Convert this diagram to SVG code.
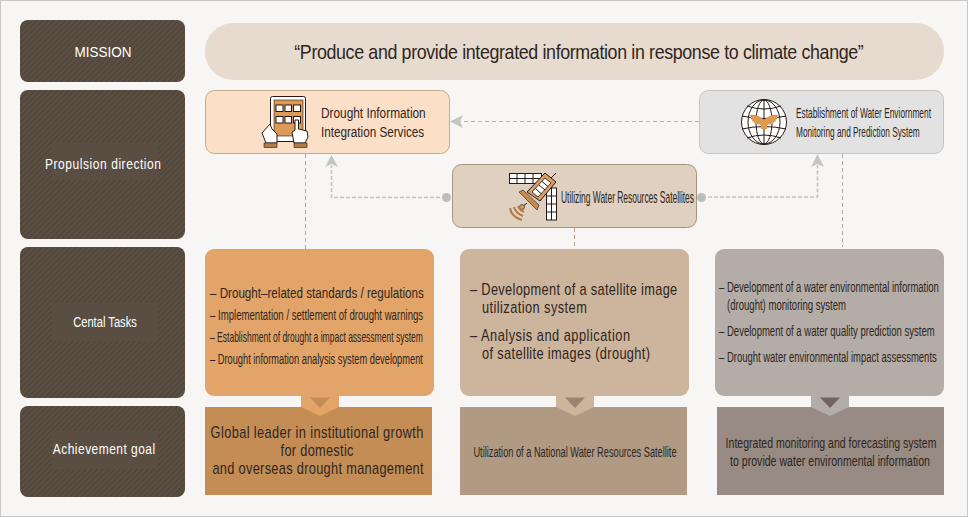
<svg xmlns="http://www.w3.org/2000/svg" width="968" height="517" viewBox="0 0 968 517">
<style>
text{font-family:"Liberation Sans",Arial,sans-serif;fill:#2e2620;font-size:15px}
.lab{fill:#fff;text-anchor:middle}
.c{text-anchor:middle}
.b{font-size:16px}
.side{fill:url(#st)}
.band{fill:#5a4d42}
.dash{fill:none;stroke-width:1;stroke-dasharray:4 3}
.heavy{stroke-width:1.600;stroke-dasharray:4 2}
.arrow{fill:#c4c4c2}
.dot{fill:#bdbdbb}
.ic{stroke:#231815;stroke-width:1;fill:#fff}
.ln{stroke:#231815;stroke-width:1;fill:none}
.arc{fill:none;stroke:#b07c4a;stroke-width:2}
.cuff{fill:#b07c4a;stroke:#231815;stroke-width:.6}
</style>
<defs>
<pattern id="st" width="4" height="4" patternUnits="userSpaceOnUse" patternTransform="rotate(45)">
<rect width="4" height="4" fill="#5b4f43"/><rect width="1.500" height="4" fill="#50453a"/>
</pattern>
</defs>
<rect x="0.500" y="0.500" width="967" height="516" fill="#f8f6f4" stroke="#c8c8c8"/>

<g id="connectors">
<path class="dash" stroke="#c9a478" d="M305.500 154V249"/>
<path class="dash" stroke="#b39f8a" d="M574.500 228V249"/>
<path class="dash" stroke="#a9a9a9" d="M842.500 154V247"/>
<path class="dash" stroke="#b4b4b2" d="M699 121.500H460"/>
<path class="arrow" d="M450 121.500L463 115L460 121.500L463 128Z"/>
<path class="dash heavy" stroke="#c4c4c2" d="M446 197.500H331.500V165"/>
<path class="arrow" d="M331.500 155L338 167L331.500 164L325 167Z"/>
<circle class="dot" cx="446.500" cy="197.500" r="4.500"/>
<path class="dash heavy" stroke="#c4c4c2" d="M702 197H817.500V165"/>
<path class="arrow" d="M817.500 154L824 167L817.500 164L811 167Z"/>
<circle class="dot" cx="701.500" cy="197.500" r="4.500"/>
</g>

<g id="label-mission"><rect class="side" x="20" y="20" width="165" height="62" rx="8"/><text class="lab" transform="translate(103 57) scale(.85 1)" textLength="67" lengthAdjust="spacingAndGlyphs">MISSION</text></g>
<g id="label-propulsion"><rect class="side" x="20" y="90" width="165" height="149" rx="8"/><rect class="band" x="52" y="143" width="106" height="37"/><text class="lab" transform="translate(103 169) scale(.8 1)" textLength="145" lengthAdjust="spacing">Propulsion direction</text></g>
<g id="label-tasks"><rect class="side" x="20" y="247" width="165" height="151" rx="8"/><rect class="band" x="52" y="303" width="106" height="38"/><text class="lab" transform="translate(105 327) scale(.75 1)" textLength="85" lengthAdjust="spacingAndGlyphs">Cental Tasks</text></g>
<g id="label-goal"><rect class="side" x="20" y="406" width="165" height="91" rx="8"/><rect class="band" x="52" y="431" width="106" height="38"/><text class="lab" transform="translate(104 454) scale(.8 1)" textLength="128" lengthAdjust="spacing">Achievement goal</text></g>

<g id="mission"><rect x="205" y="23" width="739" height="57" rx="28" fill="#e7dbd0"/><text class="c" transform="translate(579 59) scale(.85 1)" style="font-size:21px" textLength="670" lengthAdjust="spacing">“Produce and provide integrated information in response to climate change”</text></g>

<g id="drought-services"><rect x="205.500" y="90.500" width="244" height="63" rx="9" fill="#fcdfc7" stroke="#c9a98c"/>
<rect class="ic" x="270.500" y="96.500" width="35" height="45" rx="2" stroke-width="1.500"/>
<rect x="274" y="100" width="29" height="36" fill="#dc9a58" stroke="#231815" stroke-width=".6"/>
<g fill="#fff" stroke="#231815"><rect x="276" y="105" width="7" height="6.500"/><rect x="285" y="105" width="6.500" height="6.500"/><rect x="293.500" y="105" width="7" height="6.500"/><rect x="276" y="116.500" width="7" height="6.500"/><rect x="285" y="116.500" width="6.500" height="6.500"/><rect x="293.500" y="116.500" width="7" height="6.500"/></g>
<path class="ic" d="M266 143L262 133L270 124L272 129L277 134V143Z"/>
<path class="ic" d="M294 143L292 132L295 130V120H298.500V129L307 131L308 137L305 143Z"/>
<rect class="cuff" x="264" y="143" width="13" height="4.500"/><rect class="cuff" x="294" y="143" width="13" height="4.500"/>
<text transform="translate(321 118) scale(.77 1)" textLength="136" lengthAdjust="spacingAndGlyphs">Drought Information</text><text transform="translate(321 137) scale(.77 1)" textLength="134" lengthAdjust="spacingAndGlyphs">Integration Services</text></g>

<g id="water-monitoring"><rect x="699.500" y="90.500" width="244" height="63" rx="9" fill="#e2e2e2" stroke="#c4c4c4"/>
<circle class="ic" cx="764" cy="122" r="22.500" stroke-width="1.500"/>
<g class="ln"><ellipse cx="764" cy="122" rx="8" ry="22"/><ellipse cx="764" cy="122" rx="16" ry="22"/><path d="M764 100V144M747 106Q764 112 781 106M742 116Q764 121 786 116M742 129Q764 124 786 129M747 138Q764 132 781 138"/></g>
<path d="M750 115Q758 114 764 120Q770 114 778 115Q777 124 767 125V129H761V125Q751 124 750 115Z" fill="#e09a50"/>
<text transform="translate(796 118) scale(.56 1)" textLength="241" lengthAdjust="spacingAndGlyphs">Establishment of Water Enviornment</text><text transform="translate(796 137) scale(.56 1)" textLength="221" lengthAdjust="spacingAndGlyphs">Monitoring and Prediction System</text></g>

<g id="satellite"><rect x="452.500" y="164.500" width="244" height="63" rx="9" fill="#e0d0c0" stroke="#a8957f"/>
<g class="ln"><rect x="509.500" y="173.500" width="32" height="10" fill="#fff"/><path d="M517 173.500V183.500M525 173.500V183.500M533 173.500V183.500M509.500 178.500H541.500"/><rect x="546.500" y="188" width="10" height="32" fill="#fff"/><path d="M546.500 196H556.500M546.500 204H556.500M546.500 212H556.500M551.500 188V220"/></g>
<path d="M527 192L545 173L556 182L540 201Z" fill="#d99e63" stroke="#231815"/>
<path d="M532 192L545 178L551 183L538 197Z" fill="#fff" stroke="#231815" stroke-width=".8"/>
<path class="ln" d="M535.500 188.500L541.500 194M539 185L545 190M542 181.500L548 186.500M551 178L556 173M527 203L522 207"/>
<path d="M519 192L523 190L539 205L537 210Z" fill="#c88a50" stroke="#231815" stroke-width=".6"/>
<circle cx="522" cy="207" r="2.500" fill="#d99e63" stroke="#231815" stroke-width=".6"/>
<path class="arc" d="M510 208C511 214 515 218 522 220"/><path class="arc" d="M514 207C515 211 518 214 523 216"/><path class="arc" d="M518 206C519 209 520 210 524 212"/>
<text class="b" transform="translate(561 203) scale(.5 1)" textLength="266" lengthAdjust="spacingAndGlyphs">Utilizing Water Resources Satellites</text></g>

<g id="task-drought"><rect x="205" y="249" width="229" height="147" rx="9" fill="#e2a468"/>
<text transform="translate(210 298) scale(.75 1)" textLength="285" lengthAdjust="spacingAndGlyphs">– Drought–related standards / regulations</text>
<text transform="translate(210 320) scale(.64 1)" textLength="333" lengthAdjust="spacingAndGlyphs">– Implementation / settlement of drought warnings</text>
<text transform="translate(210 342) scale(.58 1)" textLength="367" lengthAdjust="spacingAndGlyphs">– Establishment of drought a impact assessment system</text>
<text transform="translate(210 364) scale(.61 1)" textLength="349" lengthAdjust="spacingAndGlyphs">– Drought information analysis system development</text></g>

<g id="task-satellite"><rect x="460" y="249" width="229" height="147" rx="9" fill="#cdb49c"/>
<text class="b" transform="translate(470 295) scale(.8 1)" textLength="259" lengthAdjust="spacing">– Development of a satellite image</text>
<text class="b" transform="translate(482 313) scale(.8 1)" textLength="131" lengthAdjust="spacing">utilization system</text>
<text class="b" transform="translate(470 341) scale(.8 1)" textLength="200" lengthAdjust="spacing">– Analysis and application</text>
<text class="b" transform="translate(482 359) scale(.8 1)" textLength="210" lengthAdjust="spacing">of satellite images (drought)</text></g>

<g id="task-water"><rect x="715" y="249" width="229" height="147" rx="9" fill="#b4aca6"/>
<text transform="translate(719 292) scale(.63 1)" textLength="349" lengthAdjust="spacingAndGlyphs">– Development of a water environmental information</text>
<text transform="translate(727 310) scale(.63 1)" textLength="189" lengthAdjust="spacingAndGlyphs">(drought) monitoring system</text>
<text transform="translate(719 336) scale(.64 1)" textLength="337" lengthAdjust="spacingAndGlyphs">– Development of a water quality prediction system</text>
<text transform="translate(719 362) scale(.65 1)" textLength="335" lengthAdjust="spacingAndGlyphs">– Drought water environmental impact assessments</text></g>

<g id="goal-drought"><rect x="205" y="407" width="227" height="88" fill="#c48d55"/><path d="M301 396H339V407L320 416L301 407Z" fill="#e2a468"/><path d="M310 397.500H330L320 408Z" fill="#c48d55"/>
<text class="b c" transform="translate(317 438) scale(.8 1)" textLength="266" lengthAdjust="spacing">Global leader in institutional growth</text><text class="b c" transform="translate(317 456) scale(.8 1)" textLength="91" lengthAdjust="spacing">for domestic</text><text class="b c" transform="translate(318 474) scale(.8 1)" textLength="264" lengthAdjust="spacing">and overseas drought management</text></g>

<g id="goal-satellite"><rect x="460" y="407" width="227" height="88" fill="#b09a84"/><path d="M556 396H594V407L575 416L556 407Z" fill="#cdb49c"/><path d="M565 397.500H585L575 408Z" fill="#978572"/>
<text class="c" transform="translate(575 457) scale(.61 1)" textLength="333" lengthAdjust="spacingAndGlyphs">Utilization of a National Water Resources Satellite</text></g>

<g id="goal-water"><rect x="717" y="407" width="227" height="88" fill="#978b83"/><path d="M811 396H849V407L830 416L811 407Z" fill="#b4aca6"/><path d="M820 397.500H840L830 408Z" fill="#6f655d"/>
<text class="c" transform="translate(831 448) scale(.68 1)" textLength="310" lengthAdjust="spacingAndGlyphs">Integrated monitoring and forecasting system</text><text class="c" transform="translate(830 466) scale(.68 1)" textLength="294" lengthAdjust="spacingAndGlyphs">to provide water environmental information</text></g>
</svg>
